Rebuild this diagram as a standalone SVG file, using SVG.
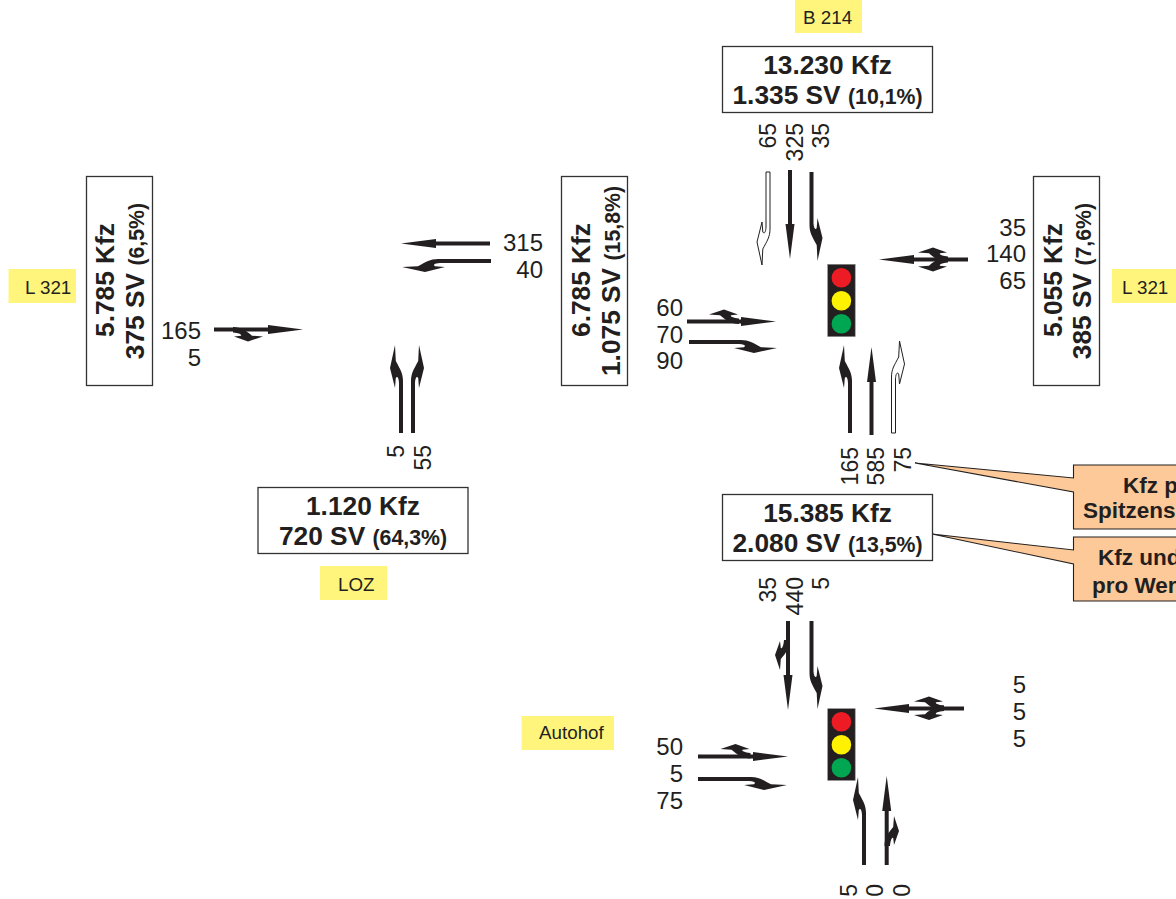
<svg xmlns="http://www.w3.org/2000/svg" width="1176" height="899" viewBox="0 0 1176 899">
<style>
text{font-family:"Liberation Sans",Arial,sans-serif;fill:#231f20}
.n{font-size:24px}
.v{font-size:23px}
.e{text-anchor:end}
.y{font-size:18.8px}
.t{font-size:26.300px;font-weight:700;text-anchor:middle}
.s{font-size:21.300px}
.c{font-size:22.500px;font-weight:700}
.yb{fill:#fff57c}
.box{fill:#fff;stroke:#333;stroke-width:1.3}
.call{fill:#fdc998;stroke:#231f20;stroke-width:1.1}
.a{fill:#231f20}
.w{fill:#fff;stroke:#231f20;stroke-width:1}
.tl{fill:#231f20;stroke:#8a8a8a;stroke-width:.6}
.r{fill:#ed1c24}.g{fill:#00a651}.l{fill:#fff200}
</style>
<defs>
<path id="stub" d="M0,0L-5,15 0,29 .8,22C2,21 3.500,24 4,30H9.500C9.500,22 6,17 .8,11Z"/>
</defs>
<rect width="1176" height="899" fill="#fff"/>
<g id="connectors" class="a">
<path class="w" transform="translate(762,265) scale(1,-1)" d="M0,0L-5,23 0,43 .8,33C2,31 3.700,32 4,38V93H8V36C8,28 5,24 .8,16Z"/>
<path transform="translate(790,259) scale(1,-1)" d="M0,0L-4.500,35H-2V89H2V35H4.500Z"/>
<path transform="translate(817.5,261) scale(-1,-1)" d="M0,0L-5,23 0,43 .8,33C2,31 3.700,32 4,38V89H8V36C8,28 5,24 .8,16Z"/>
<path transform="translate(879,259.5) rotate(-90)" d="M0,0L-4.500,35H-2V89H2V35H4.500Z"/>
<use href="#stub" transform="translate(918,252.5) rotate(-90) scale(-1,1)"/>
<use href="#stub" transform="translate(918,266.5) rotate(-90)"/>
<path transform="translate(776,321.5) rotate(90)" d="M0,0L-4.500,35H-2V89H2V35H4.500Z"/>
<use href="#stub" transform="translate(709,314.5) rotate(-90) scale(-1,1)"/>
<path transform="translate(777,348) rotate(90) scale(-1,1)" d="M0,0L-5,23 0,43 .8,33C2,31 3.700,32 4,38V88H8V36C8,28 5,24 .8,16Z"/>
<path transform="translate(844,345)" d="M0,0L-5,23 0,43 .8,33C2,31 3.700,32 4,38V88H8V36C8,28 5,24 .8,16Z"/>
<path transform="translate(871.5,347)" d="M0,0L-4.500,35H-2V88H2V35H4.500Z"/>
<path class="w" transform="translate(899.5,341) scale(-1,1)" d="M0,0L-5,23 0,43 .8,33C2,31 3.700,32 4,38V92H8V36C8,28 5,24 .8,16Z"/>
<path transform="translate(401,243.5) rotate(-90)" d="M0,0L-4.500,35H-2V89H2V35H4.500Z"/>
<path transform="translate(402,267) rotate(-90)" d="M0,0L-5,23 0,43 .8,33C2,31 3.700,32 4,38V89H8V36C8,28 5,24 .8,16Z"/>
<path transform="translate(303,329.5) rotate(90)" d="M0,0L-4.500,35H-2V89H2V35H4.500Z"/>
<use href="#stub" transform="translate(263,336.5) rotate(90) scale(-1,1)"/>
<path transform="translate(395,345)" d="M0,0L-5,23 0,43 .8,33C2,31 3.700,32 4,38V88H8V36C8,28 5,24 .8,16Z"/>
<path transform="translate(419,345) scale(-1,1)" d="M0,0L-5,23 0,43 .8,33C2,31 3.700,32 4,38V88H8V36C8,28 5,24 .8,16Z"/>
<path transform="translate(788,710) scale(1,-1)" d="M0,0L-4.500,35H-2V89H2V35H4.500Z"/>
<use href="#stub" transform="translate(780,670) scale(1,-1)"/>
<path transform="translate(817.5,709) scale(-1,-1)" d="M0,0L-5,23 0,43 .8,33C2,31 3.700,32 4,38V88H8V36C8,28 5,24 .8,16Z"/>
<path transform="translate(874,708.5) rotate(-90)" d="M0,0L-4.500,35H-2V90H2V35H4.500Z"/>
<use href="#stub" transform="translate(914,701.5) rotate(-90) scale(-1,1)"/>
<use href="#stub" transform="translate(914,715) rotate(-90)"/>
<path transform="translate(788,756.5) rotate(90)" d="M0,0L-4.500,35H-2V90H2V35H4.500Z"/>
<use href="#stub" transform="translate(720.5,749) rotate(-90) scale(-1,1)"/>
<path transform="translate(787,785) rotate(90) scale(-1,1)" d="M0,0L-5,23 0,43 .8,33C2,31 3.700,32 4,38V89H8V36C8,28 5,24 .8,16Z"/>
<path transform="translate(858,777)" d="M0,0L-5,23 0,43 .8,33C2,31 3.700,32 4,38V88H8V36C8,28 5,24 .8,16Z"/>
<path transform="translate(886.7,776)" d="M0,0L-4.500,35H-2V89H2V35H4.500Z"/>
<use href="#stub" transform="translate(894,816) scale(-1,1)"/>
</g>
<g id="callout-spitzenstunde">
<path class="call" d="M1180,465H1073.5V478L915,463 1073.5,492V529H1180Z"/>
<text class="c" x="1123" y="492.500">Kfz p</text>
<text class="c" x="1083" y="518">Spitzens</text>
</g>
<g id="callout-werktag">
<path class="call" d="M1180,537H1073.5V550L932,534 1073.5,564V601H1180Z"/>
<text class="c" x="1098" y="565">Kfz und</text>
<text class="c" x="1092" y="593">pro Wer</text>
</g>
<g id="label-b214"><rect class="yb" x="795" y="0" width="67" height="33"/><text class="y" x="803" y="24">B 214</text></g>
<g id="label-l321-west"><rect class="yb" x="8.500" y="269" width="67.500" height="34"/><text class="y" x="25" y="294">L 321</text></g>
<g id="label-l321-east"><rect class="yb" x="1112" y="269" width="66" height="34"/><text class="y" x="1122" y="294">L 321</text></g>
<g id="label-loz"><rect class="yb" x="320" y="566" width="67" height="34"/><text class="y" x="338" y="591">LOZ</text></g>
<g id="label-autohof"><rect class="yb" x="521.500" y="716" width="92.500" height="34"/><text class="y" x="539" y="739">Autohof</text></g>
<g id="box-north"><rect class="box" x="722.500" y="46.500" width="210" height="66"/>
<text class="t" x="827.500" y="74">13.230 Kfz</text><text class="t" x="827.500" y="104">1.335 SV <tspan class="s">(10,1%)</tspan></text></g>
<g id="box-south"><rect class="box" x="722.500" y="494.500" width="210" height="66"/>
<text class="t" x="827.500" y="522">15.385 Kfz</text><text class="t" x="827.500" y="552">2.080 SV <tspan class="s">(13,5%)</tspan></text></g>
<g id="box-loz"><rect class="box" x="258" y="487.500" width="210" height="66"/>
<text class="t" x="363" y="515">1.120 Kfz</text><text class="t" x="363" y="545">720 SV <tspan class="s">(64,3%)</tspan></text></g>
<g id="box-west"><rect class="box" x="86.500" y="176.500" width="66" height="209"/>
<text class="t" transform="translate(114,280) rotate(-90)">5.785 Kfz</text><text class="t" transform="translate(144,281) rotate(-90)">375 SV <tspan class="s">(6,5%)</tspan></text></g>
<g id="box-center"><rect class="box" x="561.500" y="176.500" width="66" height="209"/>
<text class="t" transform="translate(590,280) rotate(-90)">6.785 Kfz</text><text class="t" transform="translate(620,281) rotate(-90)">1.075 SV <tspan class="s">(15,8%)</tspan></text></g>
<g id="box-east"><rect class="box" x="1033.500" y="176.500" width="66" height="209"/>
<text class="t" transform="translate(1062,280) rotate(-90)">5.055 Kfz</text><text class="t" transform="translate(1091,281) rotate(-90)">385 SV <tspan class="s">(7,6%)</tspan></text></g>
<g id="signal-1"><rect class="tl" x="827.700" y="264.300" width="27.500" height="72.300"/><circle class="r" cx="841.400" cy="277.700" r="9.800"/><circle class="l" cx="841.400" cy="300.700" r="9.800"/><circle class="g" cx="841.400" cy="323.800" r="9.800"/></g>
<g id="signal-2"><rect class="tl" x="827.700" y="708.700" width="27.500" height="71.700"/><circle class="r" cx="841.400" cy="721.800" r="9.800"/><circle class="l" cx="841.400" cy="744.800" r="9.800"/><circle class="g" cx="841.400" cy="767.800" r="9.800"/></g>
<g id="counts" class="n">
<text class="e v" transform="translate(776,123) rotate(-90)">65</text>
<text class="e v" transform="translate(802.500,123) rotate(-90)">325</text>
<text class="e v" transform="translate(829,123) rotate(-90)">35</text>
<text class="e v" transform="translate(858,447) rotate(-90)">165</text>
<text class="e v" transform="translate(884,447) rotate(-90)">585</text>
<text class="e v" transform="translate(911,447) rotate(-90)">75</text>
<text class="e v" transform="translate(404,445) rotate(-90)">5</text>
<text class="e v" transform="translate(431,445) rotate(-90)">55</text>
<text class="e v" transform="translate(776,577) rotate(-90)">35</text>
<text class="e v" transform="translate(803,577) rotate(-90)">440</text>
<text class="e v" transform="translate(829,577) rotate(-90)">5</text>
<text class="e v" transform="translate(857,884) rotate(-90)">5</text>
<text class="e v" transform="translate(883,884) rotate(-90)">0</text>
<text class="e v" transform="translate(910,884) rotate(-90)">0</text>
<text class="e" x="201" y="339">165</text><text class="e" x="201" y="366">5</text>
<text class="e" x="543" y="251">315</text><text class="e" x="543" y="278">40</text>
<text class="e" x="1026" y="236">35</text><text class="e" x="1026" y="262">140</text><text class="e" x="1026" y="289">65</text>
<text class="e" x="683" y="316">60</text><text class="e" x="683" y="343">70</text><text class="e" x="683" y="369">90</text>
<text class="e" x="683" y="755">50</text><text class="e" x="683" y="782">5</text><text class="e" x="683" y="809">75</text>
<text class="e" x="1026" y="693">5</text><text class="e" x="1026" y="720">5</text><text class="e" x="1026" y="747">5</text>
</g>
</svg>
